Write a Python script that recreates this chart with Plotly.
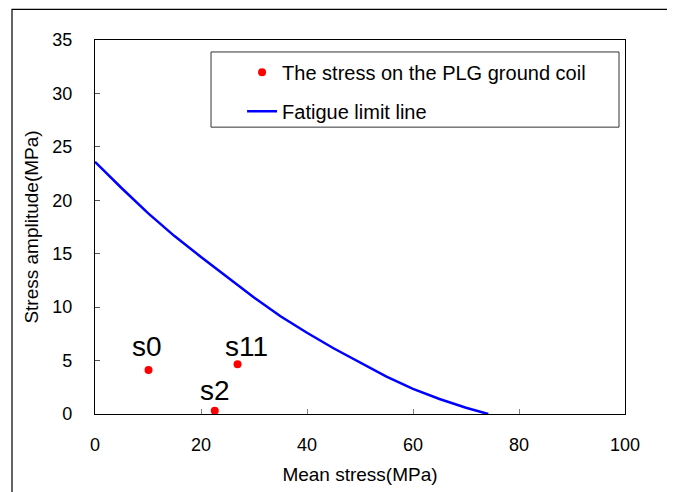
import plotly.graph_objects as go

# Data
point_labels = ["s0", "s2", "s11"]
point_mean = [10.1, 22.6, 26.9]
point_amp = [4.12, 0.31, 4.65]

limit_mean = [0, 5, 10, 15, 20, 25, 30, 35, 40, 45, 50, 55, 60, 65, 70, 74.2]
limit_amp = [23.6, 21.15, 18.8, 16.65, 14.7, 12.8, 10.9, 9.15, 7.6, 6.15, 4.8, 3.5, 2.35, 1.4, 0.58, 0]

x_ticks = [0, 20, 40, 60, 80, 100]
y_ticks = [0, 5, 10, 15, 20, 25, 30, 35]

FONT = "Arial, 'Liberation Sans', sans-serif"

# label offsets (pixels) relative to each point
label_shift_x = [-2, 0, 9]
label_shift_y = [23, 20, 18]

fig = go.Figure()
fig.add_trace(go.Scatter(
    x=point_mean, y=point_amp, mode="markers",
    name="The stress on the PLG ground coil",
    marker=dict(color="#ff0000", size=8),
    legendgroup="a",
))
fig.add_trace(go.Scatter(
    x=limit_mean, y=limit_amp, mode="lines",
    name="Fatigue limit line",
    line=dict(color="#0000ff", width=2.5),
    legendgroup="b",
))

annotations = []
for lab, xv, yv, dx, dy in zip(point_labels, point_mean, point_amp, label_shift_x, label_shift_y):
    annotations.append(dict(
        x=xv, y=yv, xref="x", yref="y", text=lab, showarrow=False,
        xshift=dx, yshift=dy, font=dict(size=28, family=FONT, color="black"),
    ))

fig.update_layout(
    width=675, height=492,
    margin=dict(l=87, r=58, t=32, b=86),
    paper_bgcolor="white", plot_bgcolor="white",
    font=dict(family=FONT, size=18, color="black"),
    showlegend=True,
    legend=dict(
        x=0.2775, y=0.966, xanchor="left", yanchor="top",
        bgcolor="rgba(0,0,0,0)", borderwidth=0,
        font=dict(size=20, family=FONT),
        tracegroupgap=10,
        traceorder="grouped",
    ),
    annotations=annotations,
    shapes=[
        dict(type="rect", xref="paper", yref="paper",
             x0=-0.1566, x1=1.083, y0=-0.25, y1=1.082,
             line=dict(color="black", width=1.2), fillcolor="rgba(0,0,0,0)", layer="below"),
        dict(type="rect", xref="paper", yref="paper",
             x0=0.2189, x1=0.9887, y0=0.767, y1=0.968,
             line=dict(color="#333333", width=1), fillcolor="white", layer="below"),
    ],
)

fig.update_xaxes(
    range=[0, 100], tickvals=x_ticks, ticks="inside", ticklen=5,
    tickcolor="#808080", showgrid=False, zeroline=False,
    showline=True, linecolor="black", linewidth=1.2, mirror=True,
    ticklabelstandoff=14,
    title=dict(text="Mean stress(MPa)", font=dict(size=19), standoff=13),
)
fig.update_yaxes(
    range=[0, 35], tickvals=y_ticks, ticks="inside", ticklen=5,
    tickcolor="#555555", showgrid=False, zeroline=False,
    showline=True, linecolor="black", linewidth=1.2, mirror=True,
    ticklabelstandoff=18,
    title=dict(text="Stress amplitude(MPa)", font=dict(size=19), standoff=8),
)

fig.write_html("out.html")
